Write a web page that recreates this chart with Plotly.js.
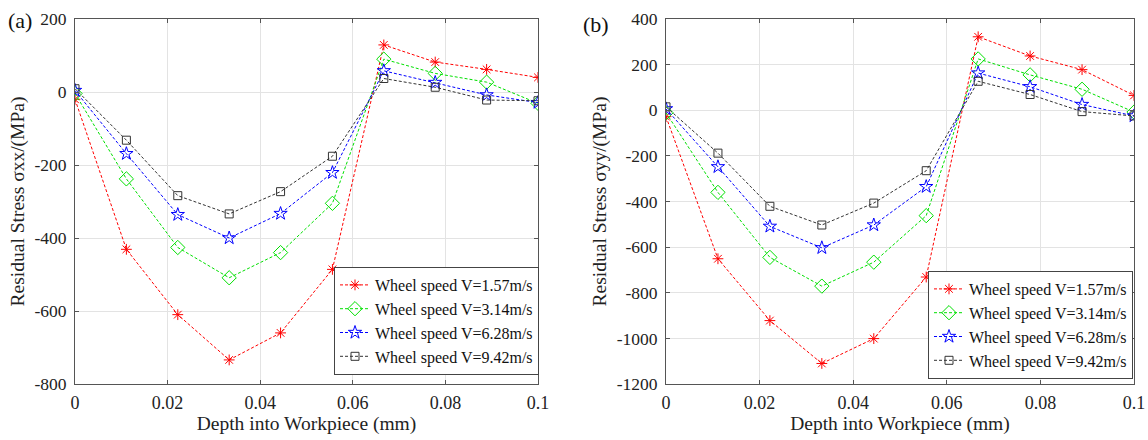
<!DOCTYPE html>
<html>
<head>
<meta charset="utf-8">
<script src="https://cdn.plot.ly/plotly-3.0.1.min.js"></script>
<style>html,body{margin:0;padding:0;background:#fff;}#chart{width:1148px;height:440px;}</style>
</head>
<body>
<div id="chart"></div>
<script>
const depth = [0, 0.0111, 0.0222, 0.0333, 0.0444, 0.0556, 0.0667, 0.0778, 0.0889, 0.1];
const seriesNames = ["Wheel speed V=1.57m/s", "Wheel speed V=3.14m/s", "Wheel speed V=6.28m/s", "Wheel speed V=9.42m/s"];

// Panel (a): sigma xx
const sxx_157 = [-20, -431, -610, -734, -660, -486, 129, 82, 62, 40];
const sxx_314 = [-4, -238, -426, -509, -440, -305, 90, 51, 27, -31];
const sxx_628 = [4, -169, -336, -400, -333, -221, 58, 26, -8, -29];
const sxx_942 = [9, -132, -284, -334, -273, -176, 37, 13, -22, -24];

// Panel (b): sigma yy
const syy_157 = [-28, -651, -922, -1110, -1001, -731, 322, 238, 178, 65];
const syy_314 = [-11, -360, -645, -771, -666, -462, 225, 155, 92, -8];
const syy_628 = [6, -248, -509, -603, -503, -335, 163, 103, 25, -25];
const syy_942 = [15, -188, -421, -503, -407, -265, 127, 69, -6, -25];

const xTickVals = [0, 0.02, 0.04, 0.06, 0.08, 0.1];
const xTickText = ["0", "0.02", "0.04", "0.06", "0.08", "0.1"];
const yaTickVals = [-800, -600, -400, -200, 0, 200];
const yaTickText = ["-800", "-600", "-400", "-200", "0", "200"];
const ybTickVals = [-1200, -1000, -800, -600, -400, -200, 0, 200, 400];
const ybTickText = ["-1200", "-1000", "-800", "-600", "-400", "-200", "0", "200", "400"];

const styles = [
  {color: "#ff0000", symbol: "asterisk-open", size: 9},
  {color: "#00e000", symbol: "diamond-open", size: 11},
  {color: "#0000ff", symbol: "star-open", size: 10},
  {color: "#333333", symbol: "square-open", size: 8}
];

const FONT = "Liberation Serif";
const traces = [];
[[sxx_157, sxx_314, sxx_628, sxx_942], [syy_157, syy_314, syy_628, syy_942]].forEach((set, p) => {
  set.forEach((ys, i) => {
    const s = styles[i];
    traces.push({
      x: depth, y: ys, name: seriesNames[i], type: "scatter", mode: "lines+markers",
      xaxis: p === 0 ? "x" : "x2", yaxis: p === 0 ? "y" : "y2",
      legend: p === 0 ? "legend" : "legend2",
      line: {color: s.color, width: 1, dash: "3px,2px"},
      marker: {symbol: s.symbol, size: s.size, color: s.color, line: {color: s.color, width: 1}}
    });
  });
});

const W = 1148, H = 440, T = 19, B = 56;
const ph = H - T - B;
function axX(domain, anchor) {
  return {
    domain: domain, anchor: anchor, range: [0, 0.1], tickvals: xTickVals, ticktext: xTickText,
    showgrid: true, gridcolor: "#e3e3e3", gridwidth: 1, zeroline: false,
    showline: true, linecolor: "#555", linewidth: 1, mirror: "ticks",
    ticks: "inside", ticklen: 4, tickcolor: "#555", ticklabelstandoff: 2,
    tickfont: {family: FONT, size: 18, color: "#222"},
    title: {text: "Depth into Workpiece (mm)", font: {family: FONT, size: 19.5, color: "#222"}, standoff: 2}
  };
}
function axY(range, vals, text, title, anchor) {
  return {
    domain: [0, 1], anchor: anchor, range: range, tickvals: vals, ticktext: text,
    showgrid: true, gridcolor: "#e3e3e3", gridwidth: 1, zeroline: false,
    showline: true, linecolor: "#555", linewidth: 1, mirror: "ticks",
    ticks: "inside", ticklen: 4, tickcolor: "#555", ticklabelstandoff: 4,
    tickfont: {family: FONT, size: 17.5, color: "#222"},
    title: {text: title, font: {family: FONT, size: 19.5, color: "#222"}, standoff: 4}
  };
}
function legendAt(rightPx, bottomPx) {
  return {
    x: rightPx / W, xref: "paper", xanchor: "right",
    y: (H - B - bottomPx) / ph, yref: "paper", yanchor: "bottom",
    bgcolor: "#ffffff", bordercolor: "#444", borderwidth: 1,
    font: {family: FONT, size: 16, color: "#111"}, tracegroupgap: 0, itemwidth: 30
  };
}
const layout = {
  width: W, height: H,
  margin: {l: 0, r: 0, t: T, b: B},
  paper_bgcolor: "#ffffff", plot_bgcolor: "#ffffff",
  font: {family: FONT},
  xaxis: axX([75 / W, 538 / W], "y"),
  yaxis: axY([-800, 200], yaTickVals, yaTickText, "Residual Stress σxx/(MPa)", "x"),
  xaxis2: axX([666 / W, 1134 / W], "y2"),
  yaxis2: axY([-1200, 400], ybTickVals, ybTickText, "Residual Stress σyy/(MPa)", "x2"),
  legend: legendAt(539, 375),
  legend2: legendAt(1133, 379),
  annotations: [
    {text: "(a)", x: 20 / W, y: 1 + (T - 21) / ph, xref: "paper", yref: "paper", xanchor: "center", yanchor: "middle", showarrow: false, font: {family: FONT, size: 22, color: "#111"}},
    {text: "(b)", x: 596 / W, y: 1 + (T - 24) / ph, xref: "paper", yref: "paper", xanchor: "center", yanchor: "middle", showarrow: false, font: {family: FONT, size: 22, color: "#111"}}
  ],
  showlegend: true
};
Plotly.newPlot("chart", traces, layout, {displayModeBar: false, staticPlot: true});
</script>
</body>
</html>
